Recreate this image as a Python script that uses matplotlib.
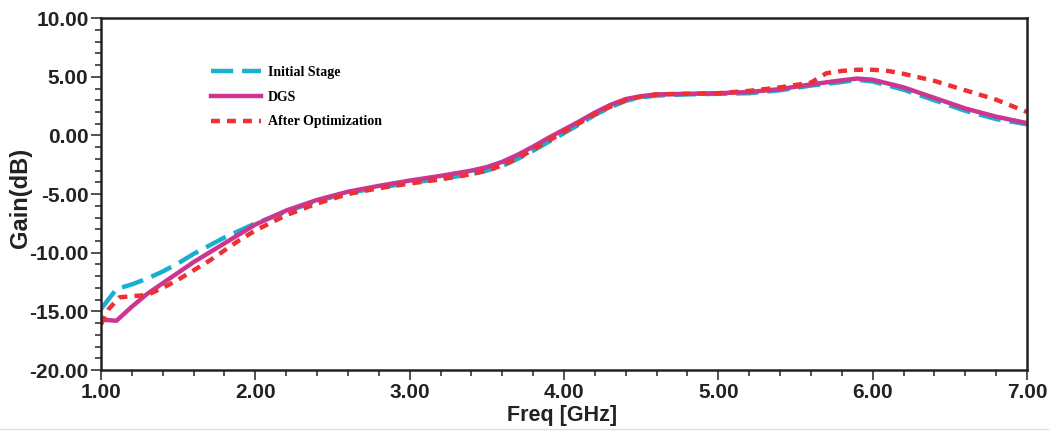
import matplotlib
matplotlib.use('Agg')
import matplotlib.pyplot as plt
from matplotlib.ticker import MultipleLocator, FormatStrFormatter
from matplotlib.lines import Line2D

# Initial Stage (cyan dashed)
f_init = [1.0, 1.1, 1.2, 1.3, 1.4, 1.5, 1.6, 1.7, 1.8, 1.9, 2.0, 2.2, 2.4, 2.6, 2.8,
          3.0, 3.2, 3.4, 3.5, 3.6, 3.7, 3.8, 3.9, 4.0, 4.1, 4.2, 4.3, 4.4, 4.5, 4.6,
          4.8, 5.0, 5.2, 5.4, 5.6, 5.8, 5.9, 6.0, 6.2, 6.4, 6.6, 6.8, 7.0]
g_init = [-14.8, -13.1, -12.7, -12.2, -11.6, -10.9, -10.1, -9.4, -8.7, -8.1, -7.5, -6.5, -5.6, -4.9, -4.45,
          -4.05, -3.7, -3.3, -3.0, -2.6, -2.0, -1.3, -0.55, 0.2, 0.95, 1.75, 2.4, 2.95, 3.25, 3.4,
          3.5, 3.55, 3.6, 3.85, 4.25, 4.55, 4.75, 4.6, 3.9, 3.0, 2.1, 1.4, 0.95]

# DGS (magenta solid)
f_dgs = [1.0, 1.1, 1.2, 1.3, 1.4, 1.5, 1.6, 1.7, 1.8, 1.9, 2.0, 2.2, 2.4, 2.6, 2.8,
         3.0, 3.2, 3.4, 3.5, 3.6, 3.7, 3.8, 3.9, 4.0, 4.1, 4.2, 4.3, 4.4, 4.5, 4.6,
         4.8, 5.0, 5.2, 5.4, 5.6, 5.8, 5.9, 6.0, 6.2, 6.4, 6.6, 6.8, 7.0]
g_dgs = [-15.7, -15.8, -14.6, -13.5, -12.6, -11.7, -10.8, -10.0, -9.2, -8.4, -7.6, -6.4, -5.5, -4.8, -4.3,
         -3.85, -3.45, -3.0, -2.7, -2.25, -1.65, -0.95, -0.2, 0.5, 1.2, 1.95, 2.6, 3.1, 3.35, 3.5,
         3.55, 3.6, 3.7, 3.95, 4.35, 4.7, 4.85, 4.75, 4.1, 3.2, 2.3, 1.6, 1.05]

# After Optimization (red dotted)
f_opt = [1.0, 1.05, 1.12, 1.3, 1.4, 1.5, 1.6, 1.7, 1.8, 1.9, 2.0, 2.2, 2.4, 2.6, 2.8,
         3.0, 3.2, 3.4, 3.5, 3.6, 3.7, 3.8, 3.9, 4.0, 4.1, 4.2, 4.3, 4.4, 4.5, 4.6,
         4.8, 5.0, 5.2, 5.4, 5.6, 5.7, 5.8, 5.9, 6.0, 6.1, 6.2, 6.4, 6.6, 6.8, 7.0]
g_opt = [-16.1, -14.8, -13.8, -13.6, -13.0, -12.3, -11.5, -10.7, -9.8, -8.9, -8.1, -6.8, -5.8, -5.0, -4.5,
         -4.1, -3.75, -3.3, -3.0, -2.55, -1.95, -1.2, -0.45, 0.3, 1.05, 1.8, 2.45, 3.0, 3.3, 3.5,
         3.55, 3.6, 3.8, 4.1, 4.5, 5.3, 5.5, 5.6, 5.6, 5.5, 5.25, 4.65, 3.85, 3.05, 2.0]

fig = plt.figure(figsize=(10.49, 4.32), dpi=100)
ax = fig.add_axes([0.0963, 0.1435, 0.8827, 0.8145])

ax.plot(f_init, g_init, color='#1AAECF', lw=3.2, dashes=(5, 2), label='Initial Stage')
ax.plot(f_dgs, g_dgs, color='#CC3690', lw=3.2, label='DGS')
ax.plot(f_opt, g_opt, color='#EE3035', lw=3.2, dashes=(2, 1.6), label='After Optimization')

ax.set_xlim(1, 7)
ax.set_ylim(-20, 10)
ax.xaxis.set_major_locator(MultipleLocator(1))
ax.xaxis.set_minor_locator(MultipleLocator(0.2))
ax.yaxis.set_major_locator(MultipleLocator(5))
ax.yaxis.set_minor_locator(MultipleLocator(1))
ax.xaxis.set_major_formatter(FormatStrFormatter('%.2f'))
ax.yaxis.set_major_formatter(FormatStrFormatter('%.2f'))

ax.tick_params(which='both', direction='out', top=False, right=False, width=1.2, color='#333333')
ax.tick_params(which='major', length=7, pad=2)
ax.tick_params(which='minor', length=4)
for lab in ax.get_xticklabels() + ax.get_yticklabels():
    lab.set_fontfamily('Liberation Sans')
    lab.set_fontweight('bold')
    lab.set_fontsize(15)
    lab.set_color('#222222')
for s in ax.spines.values():
    s.set_linewidth(1.8)
    s.set_color('#222222')

ax.set_xlabel('Freq [GHz]', fontfamily='Liberation Sans', fontweight='bold', fontsize=15.5,
              color='#222222')
ax.xaxis.set_label_coords(0.498, -0.1)
ax.set_ylabel('Gain(dB)', fontfamily='Liberation Sans', fontweight='bold', fontsize=17,
              color='#222222')
ax.yaxis.set_label_coords(-0.0745, 0.489)

leg = ax.legend(loc='upper left', bbox_to_anchor=(0.105, 0.9), frameon=False,
                handlelength=3.6, handletextpad=0.5, labelspacing=0.85,
                prop={'family': 'Liberation Serif', 'weight': 'bold', 'size': 10})

fig.add_artist(Line2D([0, 1], [0.008, 0.008], color='#dddddd', lw=1))

fig.savefig('out.png', dpi=100)
